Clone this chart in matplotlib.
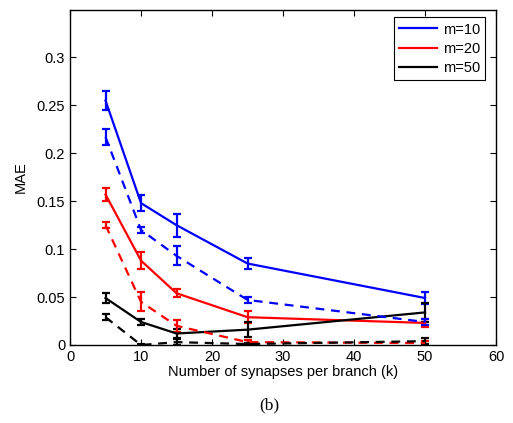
import matplotlib
matplotlib.use("Agg")
import matplotlib.pyplot as plt

plt.rcParams["font.family"] = ["Liberation Sans", "DejaVu Sans"]

k = [5, 10, 15, 25, 50]

# solid lines
m10_solid = [0.255, 0.148, 0.125, 0.085, 0.049]
m10_solid_err = [0.010, 0.008, 0.012, 0.006, 0.006]
m20_solid = [0.157, 0.088, 0.054, 0.029, 0.023]
m20_solid_err = [0.007, 0.009, 0.004, 0.006, 0.004]
m50_solid = [0.049, 0.024, 0.012, 0.016, 0.034]
m50_solid_err = [0.005, 0.003, 0.005, 0.008, 0.010]

# dashed lines
m10_dash = [0.217, 0.120, 0.093, 0.047, 0.024]
m10_dash_err = [0.008, 0.003, 0.010, 0.003, 0.003]
m20_dash = [0.125, 0.045, 0.020, 0.003, 0.002]
m20_dash_err = [0.003, 0.010, 0.006, 0.002, 0.002]
m50_dash = [0.029, 0.000, 0.003, 0.001, 0.004]
m50_dash_err = [0.003, 0.001, 0.003, 0.001, 0.003]

labels = ["m=10", "m=20", "m=50"]
colors = ["#0000ff", "#ff0000", "#000000"]

fig = plt.figure(figsize=(5.13, 4.23), dpi=100)
ax = fig.add_axes([0.1365, 0.1844, 0.8305, 0.7931])

solid = [(m10_solid, m10_solid_err), (m20_solid, m20_solid_err), (m50_solid, m50_solid_err)]
dashed = [(m10_dash, m10_dash_err), (m20_dash, m20_dash_err), (m50_dash, m50_dash_err)]

for (y, e), c, lab in zip(solid, colors, labels):
    ax.errorbar(k, y, yerr=e, color=c, lw=1.6, elinewidth=1.6, capsize=3,
                capthick=1.6, label=lab)
for (y, e), c in zip(dashed, colors):
    ax.errorbar(k, y, yerr=e, color=c, lw=1.6, elinewidth=1.6, capsize=3,
                capthick=1.6, linestyle=(0, (4, 3)))

ax.set_xlim(0, 60)
ax.set_ylim(0, 0.35)
ax.set_xticks([0, 10, 20, 30, 40, 50, 60])
ax.set_yticks([0, 0.05, 0.1, 0.15, 0.2, 0.25, 0.3])
ax.set_yticklabels(["0", "0.05", "0.1", "0.15", "0.2", "0.25", "0.3"])
ax.tick_params(direction="in", top=True, right=True, labelsize=10.5, length=4, width=0.8)
for s in ax.spines.values():
    s.set_linewidth(1.0)
ax.set_xlabel("Number of synapses per branch (k)", fontsize=10.5, labelpad=1)
ax.set_ylabel("MAE", fontsize=10.5, labelpad=6)

handles, labs = ax.get_legend_handles_labels()
leg = ax.legend([h[0] for h in handles], labs, loc="upper right", fontsize=10.5,
                fancybox=False, edgecolor="black", framealpha=1, handlelength=2.6,
                bbox_to_anchor=(0.982, 0.985), borderaxespad=0.2,
                labelspacing=0.35, handletextpad=0.4, borderpad=0.35)
leg.get_frame().set_linewidth(0.8)

fig.text(0.525, 0.042, "(b)", ha="center", va="center", fontsize=12.5,
         family=["Liberation Serif", "DejaVu Serif"])

fig.savefig("out.png", dpi=100)
